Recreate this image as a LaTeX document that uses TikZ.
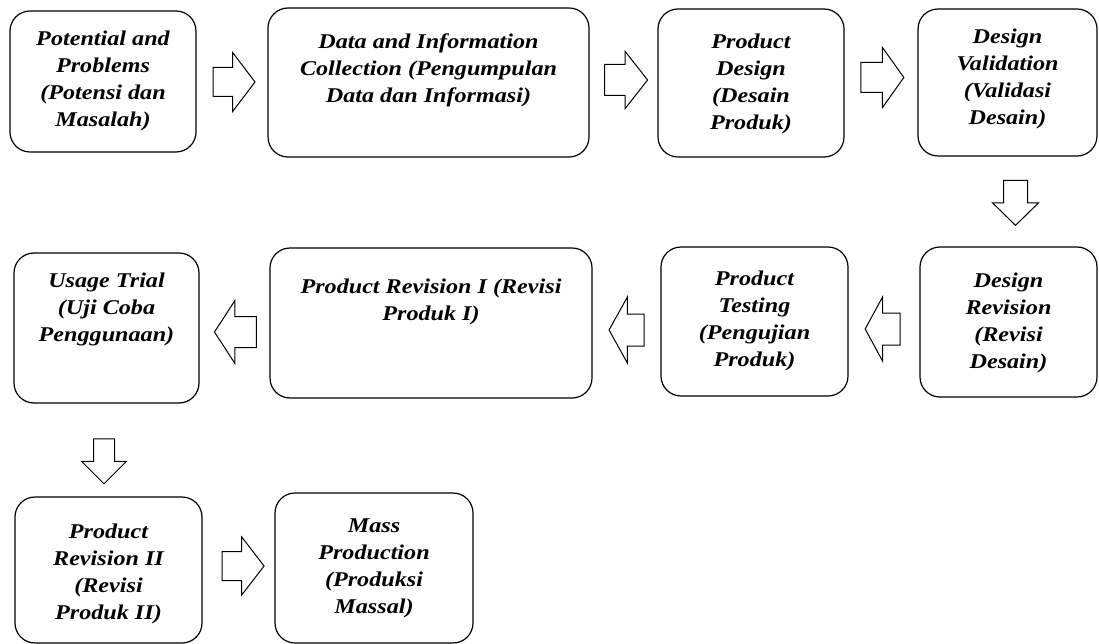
\documentclass[tikz,border=0pt]{standalone}
\usepackage{fontspec}
\setmainfont{Liberation Serif}
\newfontfamily\boxfont[FakeStretch=1.15]{Liberation Serif}
\usetikzlibrary{shapes.arrows,calc}
\begin{document}
\begin{tikzpicture}[x=1pt,y=-1pt,
  box/.style={draw, line width=1.2pt, rounded corners=20pt, inner sep=0pt},
  lbl/.style={anchor=north, align=center, inner sep=0pt, font=\boxfont\fontsize{21}{27}\selectfont\bfseries\itshape},
  blk/.style n args={4}{shape=single arrow, draw, line width=1pt, inner sep=0pt,
    inner ysep={#2/2}, minimum height=#1, minimum width=#3,
    single arrow head extend={(#3-#2)/2}, single arrow tip angle=#4},
  blkv/.style n args={4}{shape=single arrow, draw, line width=1pt, inner sep=0pt,
    inner xsep={#2/2}, minimum height=#1, minimum width=#3,
    single arrow head extend={(#3-#2)/2}, single arrow tip angle=#4,
    shape border rotate=270},
]
\useasboundingbox (0,0) rectangle (1099,644);

% Row 1
\node[box, minimum width=186pt, minimum height=141pt] (b1) at (103,81.5) {};
\node[lbl] (t1) at (103,31) {Potential and\\Problems\\(Potensi dan\\Masalah)};
\node[box, minimum width=321pt, minimum height=149pt] (b2) at (428.5,82.5) {};
\node[lbl] (t2) at (428.5,34) {Data and Information\\Collection (Pengumpulan\\Data dan Informasi)};
\node[box, minimum width=186pt, minimum height=148pt] (b3) at (751,83) {};
\node[lbl] (t3) at (751,34) {Product\\Design\\(Desain\\Produk)};
\node[box, minimum width=179pt, minimum height=147pt] (b4) at (1007.5,82.5) {};
\node[lbl] (t4) at (1007.5,29) {Design\\Validation\\(Validasi\\Desain)};

% Row 2
\node[box, minimum width=177pt, minimum height=150pt] (b5) at (1008.5,322) {};
\node[lbl] (t5) at (1008.5,273) {Design\\Revision\\(Revisi\\Desain)};
\node[box, minimum width=187pt, minimum height=149pt] (b6) at (754.5,321.5) {};
\node[lbl] (t6) at (754.5,271) {Product\\Testing\\(Pengujian\\Produk)};
\node[box, minimum width=322pt, minimum height=150pt] (b7) at (431,323) {};
\node[lbl] (t7) at (431,279) {Product Revision I (Revisi\\Produk I)};
\node[box, minimum width=185pt, minimum height=150pt] (b8) at (106.5,328) {};
\node[lbl] (t8) at (106.5,273) {Usage Trial\\(Uji Coba\\Penggunaan)};

% Row 3
\node[box, minimum width=187pt, minimum height=146pt] (b9) at (108.5,570) {};
\node[lbl] (t9) at (108.5,524) {Product\\Revision II\\(Revisi\\Produk II)};
\node[box, minimum width=198pt, minimum height=150pt] (b10) at (374,568) {};
\node[lbl] (t10) at (374,519) {Mass\\Production\\(Produksi\\Massal)};

% Block arrows
\node[blk={42pt}{28pt}{58pt}{105.6}] (a1) at (228.5,82) {};
\node[blk={43pt}{30pt}{56pt}{103.7}] (a2) at (620,80) {};
\node[blk={43pt}{29pt}{59pt}{109}] (a3) at (877,77.5) {};
\node[blkv={45pt}{23pt}{45pt}{91.3}] (d1) at (1015.5,197) {};
\node[blk={35pt}{31pt}{63pt}{123}, shape border rotate=180] (l1) at (887,329) {};
\node[blk={35pt}{31pt}{65pt}{122}, shape border rotate=180] (l2) at (631,330) {};
\node[blk={42pt}{30pt}{62pt}{114}, shape border rotate=180] (l3) at (240.5,332) {};
\node[blkv={45pt}{20pt}{44pt}{90}] (d2) at (104,456) {};
\node[blk={42pt}{28pt}{57pt}{104.7}] (a4) at (237.5,566) {};
\end{tikzpicture}
\end{document}
